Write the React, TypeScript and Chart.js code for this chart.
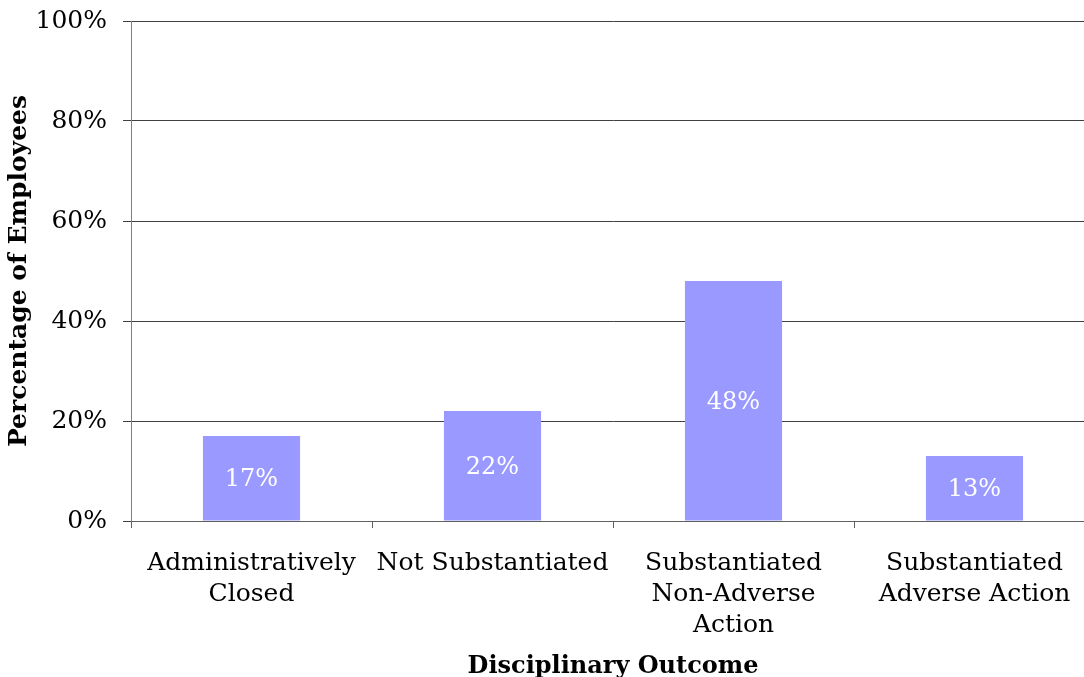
import React, { useEffect, useRef } from "react";
import { Chart, registerables } from "chart.js";

Chart.register(...registerables);

const categories: string[][] = [
  ["Administratively", "Closed"],
  ["Not Substantiated"],
  ["Substantiated", "Non-Adverse", "Action"],
  ["Substantiated", "Adverse Action"],
];
const values: number[] = [17, 22, 48, 13];
const yTicks: number[] = [0, 20, 40, 60, 80, 100];
const yTitle = "Percentage of Employees";
const xTitle = "Disciplinary Outcome";

const FONT = "'DejaVu Serif', 'Liberation Serif', serif";

const barLabels = {
  id: "barLabels",
  afterDatasetsDraw(chart: any) {
    const ctx = chart.ctx;
    const meta = chart.getDatasetMeta(0);
    ctx.save();
    ctx.fillStyle = "#ffffff";
    ctx.font = `24px ${FONT}`;
    ctx.textAlign = "center";
    ctx.textBaseline = "middle";
    meta.data.forEach((bar: any, i: number) => {
      const v = values[i];
      ctx.fillText(`${v}%`, bar.x, (bar.y + bar.base) / 2 + 2);
    });
    ctx.restore();
  },
};

export default function App() {
  const ref = useRef<HTMLCanvasElement>(null);
  useEffect(() => {
    if (!ref.current) return;
    const chart = new Chart(ref.current, {
      type: "bar",
      data: {
        labels: categories,
        datasets: [
          {
            data: values,
            backgroundColor: "#9999FF",
            borderWidth: 0,
            barPercentage: 0.403,
            categoryPercentage: 1,
          },
        ],
      },
      options: {
        responsive: false,
        animation: false,
        layout: { padding: { top: 21, right: 0, left: 0, bottom: 0 } },
        plugins: { legend: { display: false }, tooltip: { enabled: false } },
        scales: {
          x: {
            grid: {
              display: true,
              drawOnChartArea: false,
              drawTicks: true,
              tickLength: 7,
              color: "#606060",
              offset: true,
            },
            border: { color: "#606060", width: 1 },
            ticks: {
              color: "#000",
              font: { family: FONT, size: 25, lineHeight: 1.24 },
              padding: 20,
              maxRotation: 0,
              autoSkip: false,
            },
            title: {
              display: true,
              text: xTitle,
              color: "#000",
              font: { family: FONT, size: 24, weight: "bold", lineHeight: 0.85 },
              padding: { top: 0, bottom: 0 },
            },
            afterFit(scale: any) {
              scale.height = 156;
              scale.paddingLeft = 0;
              scale.paddingRight = 0;
            },
          },
          y: {
            min: 0,
            max: 100,
            afterBuildTicks(scale: any) {
              scale.ticks = yTicks.map((v) => ({ value: v }));
            },
            grid: {
              color: "#404040",
              tickLength: 8,
              drawTicks: true,
            },
            border: { color: "#808080", width: 1 },
            ticks: {
              color: "#000",
              font: { family: FONT, size: 25 },
              padding: 16,
              callback: (v: any) => `${v}%`,
            },
            title: {
              display: true,
              text: yTitle,
              color: "#000",
              font: { family: FONT, size: 25, weight: "bold", lineHeight: 1 },
              padding: { top: 7, bottom: 0 },
            },
            afterFit(scale: any) {
              scale.width = 131;
              scale.paddingTop = 0;
              scale.paddingBottom = 0;
            },
          },
        },
      },
      plugins: [barLabels],
    });
    return () => chart.destroy();
  }, []);
  return (
    <div
      style={{
        position: "fixed",
        left: 0,
        top: 0,
        width: 1084,
        height: 677,
        overflow: "hidden",
        background: "#fff",
      }}
    >
      <canvas ref={ref} width={1095} height={677} style={{ display: "block" }} />
    </div>
  );
}
